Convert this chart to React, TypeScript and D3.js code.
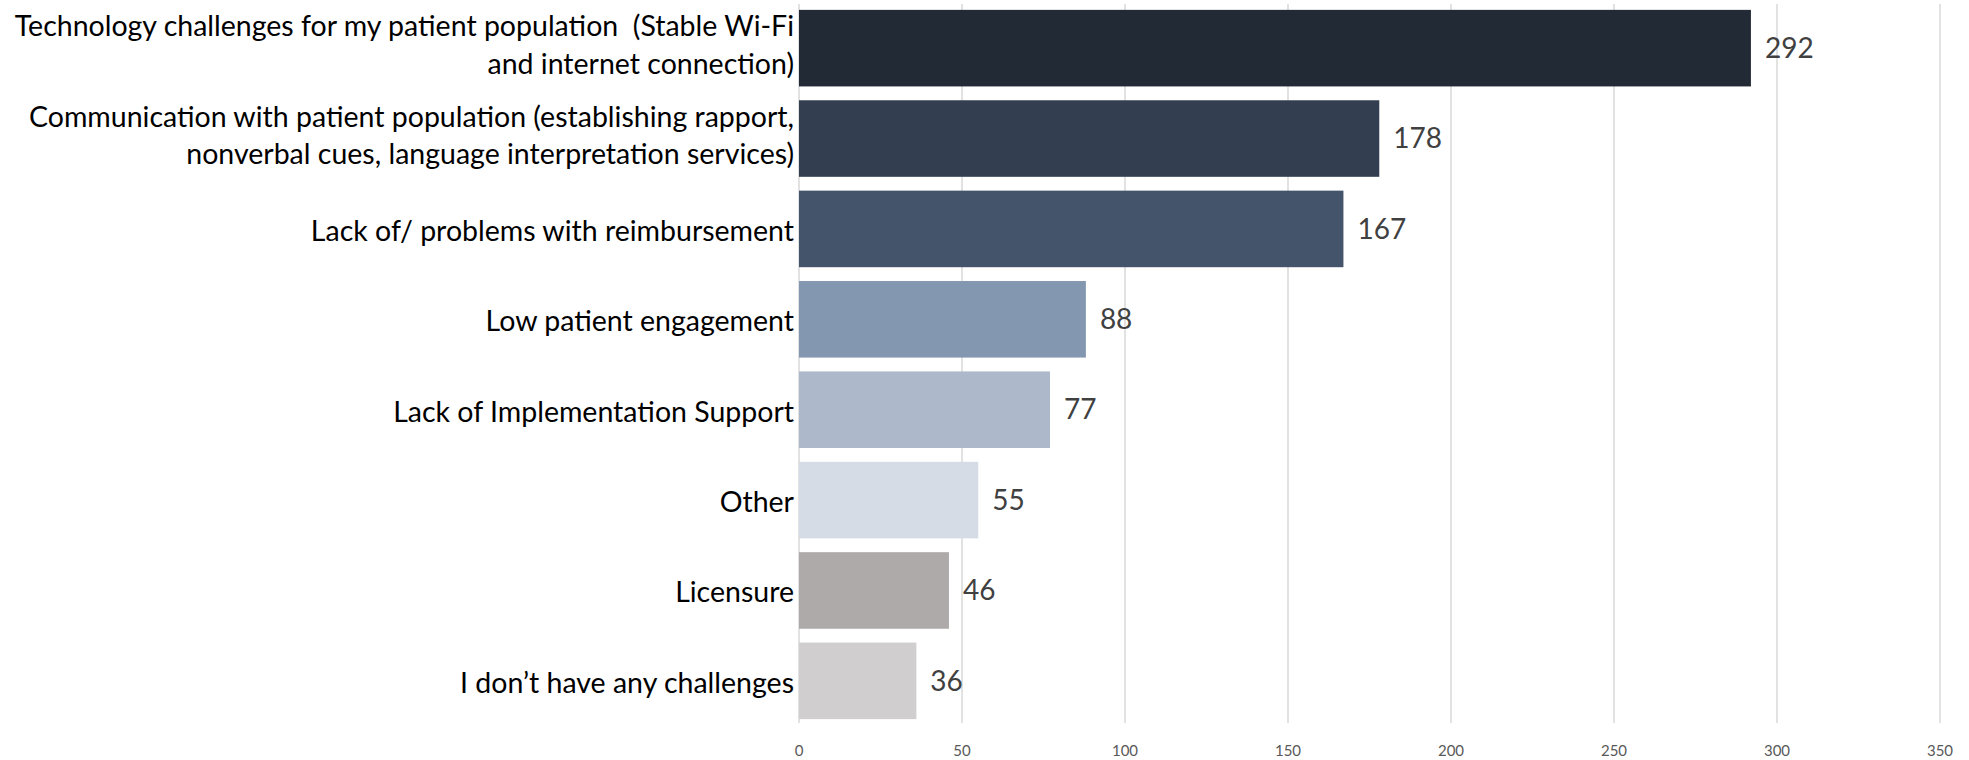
import React from "react";
import * as d3 from "d3";

const categories = [
  "Technology challenges for my patient population  (Stable Wi-Fi\nand internet connection)",
  "Communication with patient population (establishing rapport,\nnonverbal cues, language interpretation services)",
  "Lack of/ problems with reimbursement",
  "Low patient engagement",
  "Lack of Implementation Support",
  "Other",
  "Licensure",
  "I don\u2019t have any challenges",
];
const values = [292, 178, 167, 88, 77, 55, 46, 36];
const barColors = ["#222A35", "#333F50", "#44546A", "#8497B0", "#ADB9CA", "#D6DCE5", "#AEAAAA", "#D0CECE"];
const xTicks = [0, 50, 100, 150, 200, 250, 300, 350];

const W = 1969;
const H = 760;
const FONT = "Lato, 'Open Sans', sans-serif";

export default function App() {
  const x0 = 799;
  const x1 = 1940;
  const top = 3;
  const bottom = 726;
  const x = d3.scaleLinear().domain([0, 350]).range([x0, x1]);
  const y = d3.scaleBand<number>().domain(d3.range(categories.length)).range([top, bottom]).paddingInner(0.153).paddingOuter(0.076);
  const labelSize = 28.5;
  const lineH = 37.5;

  return (
    <svg width={W} height={H} style={{ position: "absolute", left: 0, top: 0, background: "#fff" }} fontFamily={FONT}>
      {xTicks.map((t) => (
        <line key={"g" + t} x1={x(t)} x2={x(t)} y1={4} y2={723} stroke="#D9D9D9" strokeWidth={1.5} />
      ))}
      {values.map((v, i) => (
        <rect key={"b" + i} x={x(0)} y={y(i)} width={x(v) - x(0)} height={y.bandwidth()} fill={barColors[i]} />
      ))}
      {values.map((v, i) => (
        <text key={"v" + i} x={x(v) + 14} y={(y(i) as number) + y.bandwidth() / 2} dy="0.35em" fontSize={28} fill="#404040">
          {v}
        </text>
      ))}
      {categories.map((c, i) => {
        const lines = c.split("\n");
        const cy = (y(i) as number) + y.bandwidth() / 2 + (lines.length > 1 ? -3 : 2);
        return (
          <text key={"c" + i} x={x0 - 5} textAnchor="end" fontSize={labelSize} fill="#000">
            {lines.map((l, j) => (
              <tspan key={j} x={x0 - 5} y={cy + (j - (lines.length - 1) / 2) * lineH} dy="0.35em" style={{ whiteSpace: "pre" }}>
                {l}
              </tspan>
            ))}
          </text>
        );
      })}
      {xTicks.map((t) => (
        <text key={"t" + t} x={x(t)} y={751} dy="0.35em" textAnchor="middle" fontSize={15} fill="#595959">
          {t}
        </text>
      ))}
    </svg>
  );
}
